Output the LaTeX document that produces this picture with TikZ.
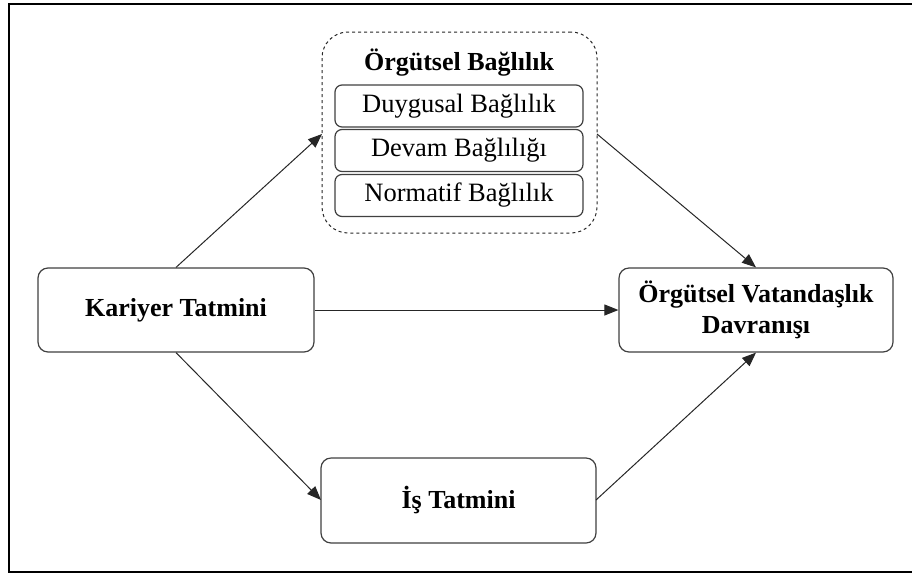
\documentclass[tikz,border=0pt]{standalone}
\usepackage{fontspec}
\setmainfont{Liberation Serif}
\usetikzlibrary{arrows.meta}
\begin{document}
\begin{tikzpicture}[x=1pt,y=-1pt,
  box/.style={draw=black!75,line width=1.2pt,rounded corners=10pt,fill=white,
    align=center,font=\fontsize{26}{31}\selectfont\bfseries,inner sep=0pt},
  subbox/.style={draw=black!75,line width=1.2pt,rounded corners=7pt,fill=white,
    minimum width=248pt,minimum height=42pt,inner sep=0pt,
    font=\fontsize{26.5}{30}\selectfont},
  link/.style={draw=black!85,line width=1pt,-{Triangle[length=14pt,width=11pt]}}]
\useasboundingbox (0,0) rectangle (912,574);
\begin{scope}
  \clip (0,0) rectangle (912,574);
  \draw[line width=2.2pt] (9,4) rectangle (918,572);
\end{scope}

% main constructs
\node[box,minimum width=276pt,minimum height=84pt] (kt) at (176,310) {Kariyer Tatmini};
\node[box,minimum width=274pt,minimum height=84pt] (ovd) at (756,310) {Örgütsel Vatandaşlık\\Davranışı};
\node[box,minimum width=275pt,minimum height=85pt] (is) at (458.5,500.5) {İş Tatmini};

% commitment group
\node[draw=black!85,dashed,line width=1pt,rounded corners=26pt,
  minimum width=275pt,minimum height=201pt] (ob) at (459.5,132.5) {};
\node[font=\fontsize{26}{30}\selectfont\bfseries] (obt) at (459,63) {Örgütsel Bağlılık};
\node[subbox] (db) at (459,106) {Duygusal Bağlılık};
\node[subbox] (dvb) at (459,150.5) {Devam Bağlılığı};
\node[subbox] (nb) at (459,195.5) {Normatif Bağlılık};

% paths
\coordinate (obl) at (322,134);
\coordinate (obr) at (597,134);
\coordinate (isl) at (321,500);
\coordinate (isr) at (596,500);
\draw[link] (kt.north) -- (obl);
\draw[link] (obr) -- (ovd.north);
\draw[link] (kt.east) -- (ovd.west);
\draw[link] (kt.south) -- (isl);
\draw[link] (isr) -- (ovd.south);
\end{tikzpicture}
\end{document}
